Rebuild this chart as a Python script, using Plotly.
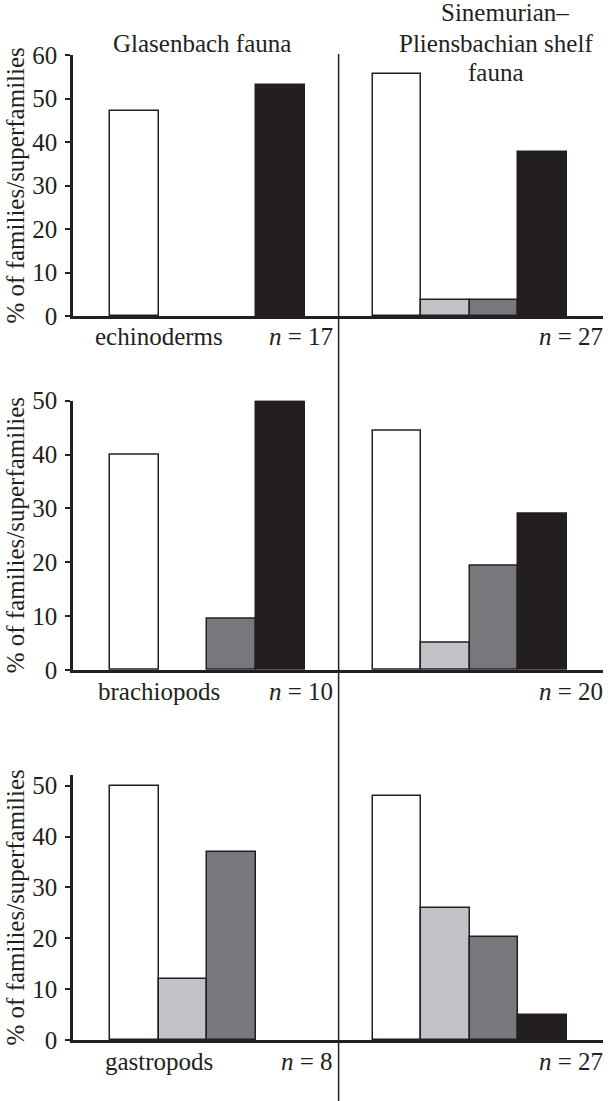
import plotly.graph_objects as go

# ---------------- data ----------------
taxa = ["echinoderms", "brachiopods", "gastropods"]
fauna_titles = ["Glasenbach fauna", "Sinemurian–", "Pliensbachian shelf", "fauna"]
n_glasenbach = [17, 10, 8]
n_shelf = [27, 20, 27]

# four classes per group (white, light grey, dark grey, black)
class_names = ["class 1", "class 2", "class 3", "class 4"]
class_colors = ["#ffffff", "#c1c2c5", "#77787b", "#231f20"]

echinoderms_glasenbach = [47.1, 0, 0, 53.2]
echinoderms_shelf = [55.6, 3.7, 3.7, 37.7]
brachiopods_glasenbach = [40.0, 0, 9.6, 50.0]
brachiopods_shelf = [44.4, 5.0, 19.4, 29.1]
gastropods_glasenbach = [50.0, 12.0, 37.0, 0]
gastropods_shelf = [48.0, 26.0, 20.2, 5.0]

y_max = [60, 50, 52.1]
y_tickvals = [[0, 10, 20, 30, 40, 50, 60], [0, 10, 20, 30, 40, 50], [0, 10, 20, 30, 40, 50]]
y_title = "% of families/superfamilies"

glas = [echinoderms_glasenbach, brachiopods_glasenbach, gastropods_glasenbach]
shelf = [echinoderms_shelf, brachiopods_shelf, gastropods_shelf]

# ---------------- layout constants ----------------
W, H = 608, 1101
INK = "#231f20"
FONT = "Liberation Serif"
FS = 25
group_offset = [0.0, 5.4]        # x position of the first slot in each group
x_range = [-1.265, 9.64]
divider_x = (group_offset[0] + 3.5 + group_offset[1] - 0.5) / 2

# panel pixel extents (top of axis, zero line)
panel_px = [(55, 316), (400.7, 670), (775, 1040)]
x_px = (73, 603)


def py(p):
    return (H - p) / H


def nz(v):
    return v if v else None


fig = go.Figure()
layout = dict(
    width=W, height=H,
    margin=dict(l=0, r=0, t=0, b=0, pad=0, autoexpand=False),
    paper_bgcolor="white", plot_bgcolor="white",
    showlegend=False, bargap=0,
    font=dict(family=FONT, size=FS, color=INK),
    annotations=[], shapes=[],
)

for i, taxon in enumerate(taxa):
    sfx = "" if i == 0 else str(i + 1)
    xa, ya = "x" + sfx, "y" + sfx
    for c in range(4):
        fig.add_trace(go.Bar(
            x=[group_offset[0] + c, group_offset[1] + c],
            y=[nz(glas[i][c]), nz(shelf[i][c])],
            width=1.0,
            name=class_names[c],
            marker=dict(color=class_colors[c], line=dict(color=INK, width=1.5)),
            xaxis=xa, yaxis=ya,
        ))
    top, zero = panel_px[i]
    layout["xaxis" + sfx] = dict(
        domain=[x_px[0] / W, x_px[1] / W], range=x_range, anchor=ya,
        showticklabels=False, ticks="", showgrid=False, zeroline=False,
        showline=True, linecolor=INK, linewidth=2.5, fixedrange=True,
        automargin=False,
    )
    layout["yaxis" + sfx] = dict(
        domain=[py(zero), py(top)], range=[0, y_max[i]], anchor=xa,
        tickvals=y_tickvals[i], ticks="outside", ticklen=5, tickwidth=2,
        tickcolor=INK, showgrid=False, zeroline=False,
        showline=True, linecolor=INK, linewidth=2.5, fixedrange=True,
        tickfont=dict(family=FONT, size=FS, color=INK),
        ticklabelstandoff=3, automargin=False,
    )
    # y-axis title
    layout["annotations"].append(dict(
        text=y_title, textangle=-90, xref="paper", yref="paper",
        x=15 / W, y=(py(zero) + py(top)) / 2, xanchor="center", yanchor="middle",
        showarrow=False, font=dict(family=FONT, size=FS, color=INK),
    ))
    # taxon label
    layout["annotations"].append(dict(
        text=taxon, xref=xa, yref=ya, x=group_offset[0] + 0.5, y=0,
        xanchor="center", yanchor="middle", yshift=-21, showarrow=False,
        font=dict(family=FONT, size=FS, color=INK),
    ))
    # n labels
    layout["annotations"].append(dict(
        text="<i>n</i> = %d" % n_glasenbach[i], xref=xa, yref=ya,
        x=divider_x, y=0, xanchor="right", yanchor="middle", xshift=-4, yshift=-21,
        showarrow=False, font=dict(family=FONT, size=FS, color=INK),
    ))
    layout["annotations"].append(dict(
        text="<i>n</i> = %d" % n_shelf[i], xref=xa + " domain", yref=ya,
        x=1, y=0, xanchor="right", yanchor="middle", xshift=2, yshift=-21,
        showarrow=False, font=dict(family=FONT, size=FS, color=INK),
    ))

# fauna headers
layout["annotations"].append(dict(
    text=fauna_titles[0], xref="paper", yref="paper", x=202 / W, y=py(43),
    xanchor="center", yanchor="middle", showarrow=False,
    font=dict(family=FONT, size=FS, color=INK),
))
for k, (txt, cx, cy) in enumerate(zip(fauna_titles[1:], [505, 496, 496], [13, 43, 73])):
    layout["annotations"].append(dict(
        text=txt, xref="paper", yref="paper", x=cx / W, y=py(cy),
        xanchor="center", yanchor="middle", showarrow=False,
        font=dict(family=FONT, size=FS, color=INK),
    ))

# divider between the two faunas
layout["shapes"].append(dict(
    type="line", xref="x", yref="paper", x0=divider_x, x1=divider_x,
    y0=0, y1=py(54), line=dict(color=INK, width=1.5),
))

fig.update_layout(**layout)
fig.write_html(
    "out.html",
    config={"displayModeBar": False},
    post_script=(
        "var d=document.getElementById('{plot_id}');"
        "d.style.position='fixed';d.style.top='0px';d.style.left='0px';"
        "document.documentElement.style.margin='0';"
        "document.body.style.margin='0';document.body.style.padding='0';"
        "document.documentElement.style.overflow='hidden';"
        "document.body.style.overflow='hidden';"
    ),
)
